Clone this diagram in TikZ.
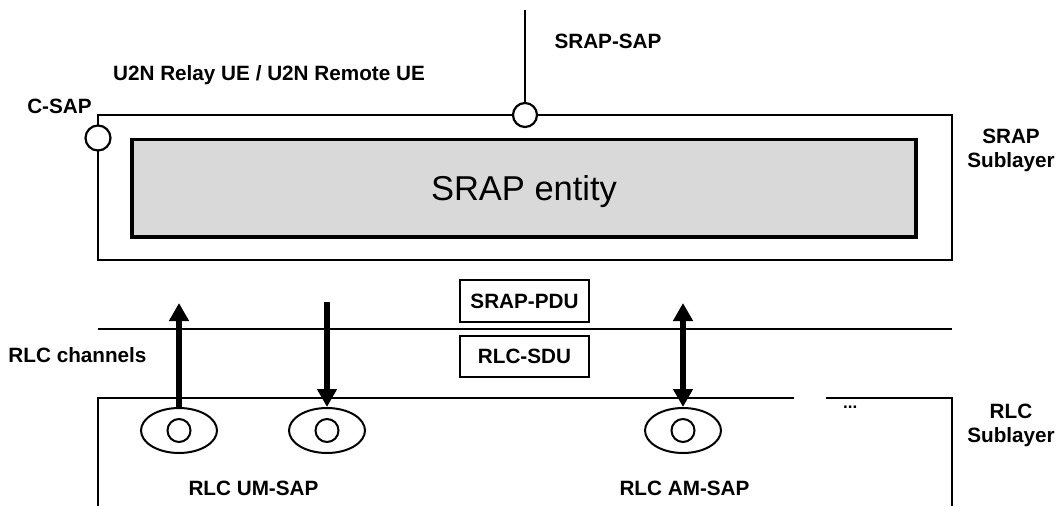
\documentclass[tikz,border=0pt]{standalone}
\usepackage{fontspec}
\setmainfont{Liberation Sans}
\usetikzlibrary{arrows.meta,shapes.geometric}
\definecolor{entgray}{HTML}{D9D9D9}
\begin{document}
\begin{tikzpicture}[x=1pt,y=-1pt,
  lbl/.style={font=\fontsize{20.7}{24}\selectfont\bfseries, inner sep=0pt, align=center},
  ln/.style={line width=2pt},
  sapc/.style={circle, draw, fill=white, line width=2.2pt, minimum size=24pt, inner sep=0pt},
  chan/.style={ellipse, draw, line width=2pt, minimum width=76pt, minimum height=45pt, inner sep=0pt},
  chdot/.style={circle, draw, line width=2pt, minimum size=23pt, inner sep=0pt},
  pdu/.style={draw, line width=2pt, minimum width=129pt, inner sep=0pt, text height=14.8pt, text depth=0pt,
              font=\fontsize{20.7}{24}\selectfont\bfseries},
  bigarrow/.style={line width=6.4pt, >={Triangle[length=18pt,width=19pt]}}
]
\useasboundingbox (0,0) rectangle (1059,506);

% SRAP sublayer box
\node[draw, ln, minimum width=854pt, minimum height=144.5pt, inner sep=0pt] (srapbox) at (525,187.25) {};
\node[draw, line width=3.6pt, fill=entgray, minimum width=784pt, minimum height=97.5pt, inner sep=0pt,
      font=\fontsize{34.5}{40}\selectfont, text height=24.7pt, text depth=0pt] (entity) at (524,188.25) {SRAP entity};

% SAP circles
\coordinate (saptop) at (525,10);
\node[sapc] (srapsap) at (525,115) {};
\draw[ln] (saptop) -- (srapsap);
\node[sapc, minimum size=25pt] (csap) at (98,138) {};

% labels top
\node[lbl, anchor=base] (lcsap) at (59.5,113) {C-SAP};
\node[lbl, anchor=base] (lue) at (269,80) {U2N Relay UE / U2N Remote UE};
\node[lbl, anchor=base] (lsrapsap) at (608,48) {SRAP-SAP};
\node[lbl] (lsrapsub) at (1011,150.6) {SRAP\\Sublayer};

% channel separation line
\coordinate (hl1) at (98,329);
\coordinate (hl2) at (952,329);
\draw[ln] (hl1) -- (hl2);

% PDU / SDU boxes
\node[pdu, minimum height=42pt] (pdu) at (524.5,301) {SRAP-PDU};
\node[pdu, minimum height=41pt] (sdu) at (524.5,356.5) {RLC-SDU};

\node[lbl, anchor=base] (lchan) at (77.5,362) {RLC channels};

% RLC sublayer box (open at bottom, gap in top edge)
\coordinate (r1) at (98,506);
\coordinate (r2) at (98,398);
\coordinate (r3) at (794,398);
\coordinate (r4) at (826,398);
\coordinate (r5) at (952,398);
\coordinate (r6) at (952,506);
\draw[ln] (r1) -- (r2) -- (r3);
\draw[ln] (r4) -- (r5) -- (r6);
\node[lbl, anchor=base west, font=\fontsize{17}{20}\selectfont\bfseries] (ldots) at (843,408) {...};
\node[lbl] (lrlcsub) at (1011,425.7) {RLC\\Sublayer};

% RLC SAPs
\node[chan] (e1) at (179,430.5) {};
\node[chdot] (d1) at (179,430.5) {};
\node[chan] (e2) at (327,430.5) {};
\node[chdot] (d2) at (327,430.5) {};
\node[chan] (e3) at (683,430.5) {};
\node[chdot] (d3) at (683,430.5) {};

\node[lbl, anchor=base] (lum) at (253.5,495.5) {RLC UM-SAP};
\node[lbl, anchor=base] (lam) at (684.5,495.5) {RLC AM-SAP};

% arrows
\coordinate (a1) at (179,303);
\coordinate (a2) at (327,302);
\coordinate (a3) at (683,303);
\draw[bigarrow, ->] (e1.north) -- (a1);
\draw[bigarrow, ->] (a2) -- (e2.north);
\draw[bigarrow, <->] (a3) -- (e3.north);
\end{tikzpicture}
\end{document}
